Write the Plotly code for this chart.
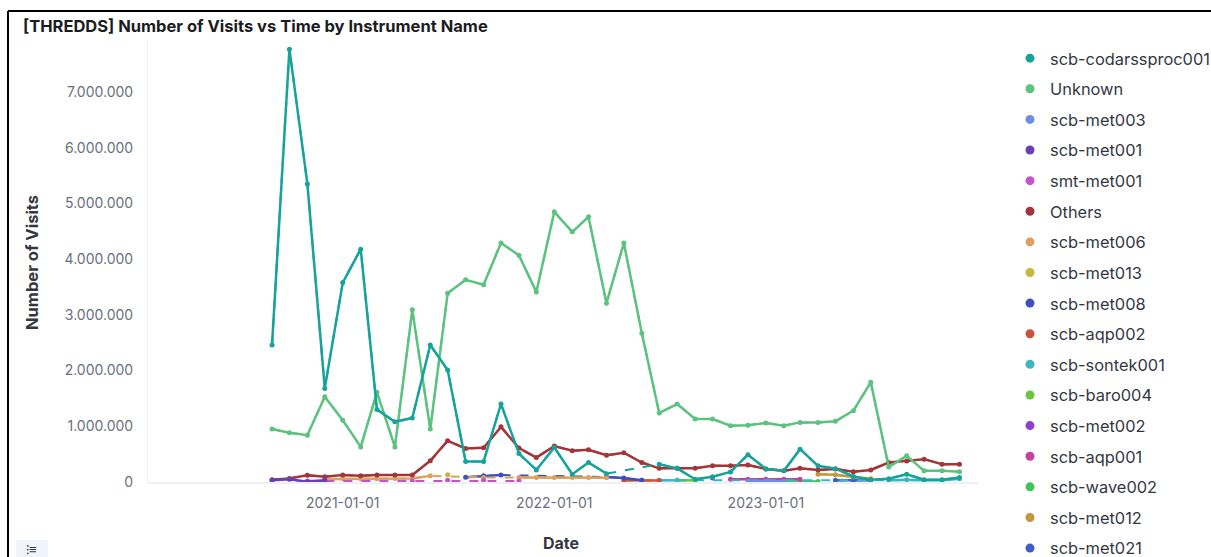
import plotly.graph_objects as go
import pandas as pd

N = None
months = pd.date_range("2020-09-01", "2023-12-01", freq="MS")

codar = [2460000, 7770000, 5350000, 1680000, 3580000, 4180000, 1300000, 1080000, 1150000, 2460000,
         2010000, 370000, 370000, 1400000, 510000, 215000, 620000, 140000, 350000, 150000,
         N, N, 320000, 245000, 50000, 95000, 180000, 490000, 235000, 200000,
         590000, 290000, 240000, 100000, 40000, 60000, 140000, 40000, 40000, 80000]
unknown = [950000, 885000, 840000, 1530000, 1110000, 630000, 1610000, 630000, 3090000, 950000,
           3390000, 3630000, 3540000, 4290000, 4070000, 3410000, 4850000, 4490000, 4760000, 3210000,
           4290000, 2670000, 1240000, 1400000, 1130000, 1130000, 1010000, 1020000, 1060000, 1010000,
           1070000, 1070000, 1090000, 1280000, 1790000, 270000, 470000, 200000, 200000, 185000]
met003 = [N]*27 + [20000, 20000, 15000] + [N]*10
met001 = [30000, 50000, 5000, 30000] + [N]*36
smt_met001 = [N, N, 20000, 20000, N, N, N, N, 20000, N, 30000, N, 30000, N, 20000] + [N]*25
others = [40000, 65000, 120000, 95000, 125000, 110000, 125000, 125000, 125000, 380000,
          740000, 600000, 615000, 990000, 610000, 440000, 645000, 560000, 580000, 480000,
          525000, 350000, 245000, 245000, 245000, 290000, 290000, 305000, 235000, 200000,
          245000, 215000, 235000, 185000, 215000, 350000, 375000, 410000, 320000, 320000]
met006 = [N, N, N, 50000, 60000, 60000, 60000, 65000, 65000, 110000,
          N, N, 80000, N, 80000, 80000, 80000, 80000, 80000, 75000] + [N]*20
met013 = [N]*10 + [130000] + [N]*29
met008 = [N]*11 + [85000, 110000, 125000, N, N, N, N, N, 90000, 70000, 30000] + [N]*18
aqp002 = [N]*20 + [30000, 30000, 25000] + [N]*17
sontek001 = [N]*22 + [30000, 30000] + [N]*11 + [30000, 40000, 30000, 30000, 60000]
baro004 = [N]*23 + [30000, 30000] + [N]*15
met002 = [N]*25 + [70000] + [N]*14
aqp001 = [N]*26 + [50000, 50000, 50000, 50000, 50000] + [N]*9
wave002 = [N]*29 + [10000, 10000, 10000] + [N]*8
met012 = [N]*31 + [140000, 130000, 90000, 60000] + [N]*5
met021 = [N]*32 + [30000, 30000, 30000] + [N]*5

series_names = ["scb-codarssproc001", "Unknown", "scb-met003", "scb-met001", "smt-met001", "Others",
                "scb-met006", "scb-met013", "scb-met008", "scb-aqp002", "scb-sontek001", "scb-baro004",
                "scb-met002", "scb-aqp001", "scb-wave002", "scb-met012", "scb-met021"]
series_values = [codar, unknown, met003, met001, smt_met001, others, met006, met013, met008, aqp002,
                 sontek001, baro004, met002, aqp001, wave002, met012, met021]
series_colors = ["#17A399", "#5CC27F", "#6E8FE0", "#6A3FB5", "#C455C9", "#A3353A", "#DDA15F", "#C8B73E",
                 "#3F4FC0", "#CA5238", "#3DB5C2", "#6EC23E", "#923FC9", "#C53FA5", "#3DC45C", "#C2983B",
                 "#3F5CC9"]

W, H = 1211, 557
L, R, T, B = 148, 233, 40, 75
PW, PH = W - L - R, H - T - B


def px(x):
    return (x - L) / PW


def py(y):
    return (H - B - y) / PH


fig = go.Figure()

# draw in reverse so the first series sits on top
for name, vals, col in reversed(list(zip(series_names, series_values, series_colors))):
    xs = [m for m, v in zip(months, vals) if v is not None]
    ys = [v for v in vals if v is not None]
    if len(ys) > 1:
        fig.add_trace(go.Scatter(x=xs, y=ys, mode="lines", line=dict(color=col, width=2, dash="dash"),
                                 showlegend=False, hoverinfo="skip"))
    fig.add_trace(go.Scatter(x=months, y=vals, mode="lines+markers", name=name,
                             line=dict(color=col, width=2.5), marker=dict(color=col, size=5),
                             connectgaps=False, showlegend=False))

for i, (name, col) in enumerate(zip(series_names, series_colors)):
    fig.add_trace(go.Scatter(x=[None], y=[None], mode="markers", name=name, legendgroup=f"g{i}",
                             marker=dict(color=col, size=9), showlegend=True))

fig.update_layout(
    width=W, height=H,
    margin=dict(l=L, r=R, t=T, b=B, autoexpand=False),
    paper_bgcolor="white", plot_bgcolor="white",
    font=dict(family="Inter, Roboto, sans-serif", color="#343741"),
    separators=",.",
    showlegend=True,
    legend=dict(x=px(1010), y=py(41), xanchor="left", yanchor="top", traceorder="grouped",
                tracegroupgap=6.3, font=dict(size=16.4, color="#343741"), bgcolor="rgba(0,0,0,0)",
                itemclick=False, maxheight=1000),
    xaxis=dict(range=["2020-01-31", "2024-01-02"], type="date",
               tickvals=["2021-01-01", "2022-01-01", "2023-01-01"],
               ticktext=["2021-01-01", "2022-01-01", "2023-01-01"],
               showgrid=False, zeroline=False, showline=True, linecolor="#EEF0F3", linewidth=2,
               ticks="", tickfont=dict(size=14, color="#69707D"), ticklabelstandoff=7),
    yaxis=dict(range=[0, 7934000], tickvals=[0, 1000000, 2000000, 3000000, 4000000, 5000000, 6000000, 7000000],
               tickformat=",d", showgrid=False, zeroline=False, showline=True, linecolor="#EEF0F3",
               linewidth=1, ticks="", tickfont=dict(size=14, color="#69707D"), ticklabelstandoff=11),
    annotations=[
        dict(text="<b>[THREDDS] Number of Visits vs Time by Instrument Name</b>", x=px(21), y=py(26),
             xref="paper", yref="paper", xanchor="left", yanchor="middle", showarrow=False,
             font=dict(size=16.5, color="#1A1C21")),
        dict(text="<b>Number of Visits</b>", x=px(32), y=py(262), xref="paper", yref="paper",
             xanchor="center", yanchor="middle", textangle=-90, showarrow=False,
             font=dict(size=16.5, color="#343741")),
        dict(text="<b>Date</b>", x=px(561), y=py(543), xref="paper", yref="paper",
             xanchor="center", yanchor="middle", showarrow=False, font=dict(size=16, color="#343741")),
        dict(text="⁝≡", x=px(32), y=py(549), xref="paper", yref="paper",
             xanchor="center", yanchor="middle", showarrow=False, font=dict(size=13, color="#343741")),
    ],
    shapes=[
        dict(type="line", xref="paper", yref="paper", x0=px(8), x1=px(1215), y0=py(11), y1=py(11),
             line=dict(color="black", width=2)),
        dict(type="line", xref="paper", yref="paper", x0=px(8), x1=px(8), y0=py(11), y1=py(560),
             line=dict(color="black", width=2)),
        dict(type="rect", xref="paper", yref="paper", x0=px(16), x1=px(48), y0=py(540), y1=py(562),
             line=dict(width=0), fillcolor="#F1F4FA", layer="below"),
    ],
)

fig.write_html("out.html", config={"displayModeBar": False},
               post_script="document.body.style.margin='0';document.body.style.overflow='hidden';")
